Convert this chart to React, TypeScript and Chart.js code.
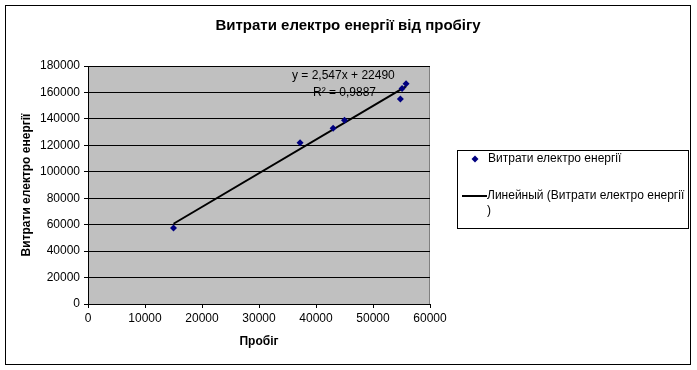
import React, { useEffect, useRef } from "react";
import { Chart, registerables } from "chart.js";

Chart.register(...registerables);

const mileage = [15000, 37200, 43000, 45000, 54800, 55100, 55800];
const energy = [57500, 122000, 133000, 139000, 155000, 163000, 166500];
const slope = 2.547;
const intercept = 22490;
const seriesName = "Витрати електро енергії";
const trendName = "Линейный (Витрати електро енергії";
const trendNameTail = ")";
const chartTitle = "Витрати електро енергії від пробігу";
const xTitle = "Пробіг";
const yTitle = "Витрати електро енергії";
const equationText = "y = 2,547x + 22490";
const r2Text = "R² = 0,9887";

const FONT = "'Liberation Sans', Arial, sans-serif";

export default function App() {
  const ref = useRef<HTMLCanvasElement>(null);
  useEffect(() => {
    const canvas = ref.current!;
    const xMin = Math.min(...mileage);
    const xMax = Math.max(...mileage);
    const trend = [
      { x: xMin, y: slope * xMin + intercept },
      { x: xMax, y: slope * xMax + intercept },
    ];
    const deco = {
      id: "deco",
      beforeDraw(chart: any) {
        const { ctx, chartArea: a } = chart;
        ctx.save();
        ctx.fillStyle = "#ffffff";
        ctx.fillRect(0, 0, chart.width, chart.height);
        ctx.strokeStyle = "#000";
        ctx.lineWidth = 1;
        ctx.strokeRect(5.5, 5.5, 685, 359);
        ctx.fillStyle = "#c0c0c0";
        ctx.fillRect(a.left, a.top, a.right - a.left, a.bottom - a.top);
        ctx.strokeStyle = "#808080";
        ctx.beginPath();
        ctx.moveTo(a.left, a.top + 0.5);
        ctx.lineTo(a.right - 0.5, a.top + 0.5);
        ctx.lineTo(a.right - 0.5, a.bottom);
        ctx.stroke();
        ctx.restore();
      },
      afterDraw(chart: any) {
        const { ctx, chartArea: a } = chart;
        ctx.save();
        ctx.fillStyle = "#000";
        ctx.textAlign = "center";
        ctx.textBaseline = "middle";
        ctx.font = `bold 15px ${FONT}`;
        ctx.fillText(chartTitle, 348, 26);
        ctx.font = `bold 12px ${FONT}`;
        ctx.fillText(xTitle, (a.left + a.right) / 2, 342);
        ctx.save();
        ctx.translate(27, (a.top + a.bottom) / 2);
        ctx.rotate(-Math.PI / 2);
        ctx.fillText(yTitle, 0, 0);
        ctx.restore();
        ctx.font = `12px ${FONT}`;
        ctx.textAlign = "left";
        ctx.fillText(equationText, 292, 76);
        ctx.fillText(r2Text, 313, 93);
        ctx.strokeStyle = "#000";
        ctx.lineWidth = 1;
        ctx.strokeRect(457.5, 150.5, 231, 78);
        ctx.fillStyle = "#000080";
        ctx.beginPath();
        const dx = 475, dy = 159;
        ctx.moveTo(dx, dy - 3.5);
        ctx.lineTo(dx + 3.5, dy);
        ctx.lineTo(dx, dy + 3.5);
        ctx.lineTo(dx - 3.5, dy);
        ctx.closePath();
        ctx.fill();
        ctx.fillStyle = "#000";
        ctx.fillText(seriesName, 488, 159);
        ctx.lineWidth = 2;
        ctx.beginPath();
        ctx.moveTo(462, 196);
        ctx.lineTo(487, 196);
        ctx.stroke();
        ctx.fillText(trendName, 487, 196);
        ctx.fillText(trendNameTail, 487, 211);
        ctx.restore();
      },
    };
    const chart = new Chart(canvas, {
      type: "scatter",
      data: {
        datasets: [
          {
            label: seriesName,
            data: mileage.map((x, i) => ({ x, y: energy[i] })),
            pointStyle: "rectRot",
            pointRadius: 3.5,
            pointBackgroundColor: "#000080",
            pointBorderColor: "#000080",
            pointBorderWidth: 0,
            order: 1,
          },
          {
            type: "line",
            label: trendName,
            data: trend,
            borderColor: "#000",
            borderWidth: 2,
            pointRadius: 0,
            showLine: true,
            fill: false,
            order: 2,
          } as any,
        ],
      },
      options: {
        responsive: false,
        animation: false,
        events: [],
        layout: { padding: { left: 0, top: 66, right: 267, bottom: 16 } },
        plugins: { legend: { display: false }, title: { display: false }, tooltip: { enabled: false } },
        scales: {
          x: {
            type: "linear",
            min: 0,
            max: 60000,
            afterFit: (s: any) => { s.height = 50; },
            ticks: { stepSize: 10000, color: "#000", font: { family: FONT, size: 12 }, padding: 3, maxRotation: 0, callback: (v: any) => String(v) },
            grid: { drawOnChartArea: false, drawTicks: true, tickLength: 4, color: "#000" },
            border: { color: "#000", width: 1 },
          },
          y: {
            type: "linear",
            min: 0,
            max: 180000,
            afterFit: (s: any) => { s.width = 88; },
            ticks: { stepSize: 20000, color: "#000", font: { family: FONT, size: 12 }, padding: 4, callback: (v: any) => String(v) },
            grid: { drawOnChartArea: true, drawTicks: true, tickLength: 4, color: "#000" },
            border: { color: "#000", width: 1 },
          },
        },
      },
      plugins: [deco],
    });
    return () => chart.destroy();
  }, []);
  return (
    <div style={{ position: "fixed", left: 0, top: 0, width: 697, height: 370 }}>
      <canvas ref={ref} width={697} height={370} style={{ display: "block" }} />
    </div>
  );
}
